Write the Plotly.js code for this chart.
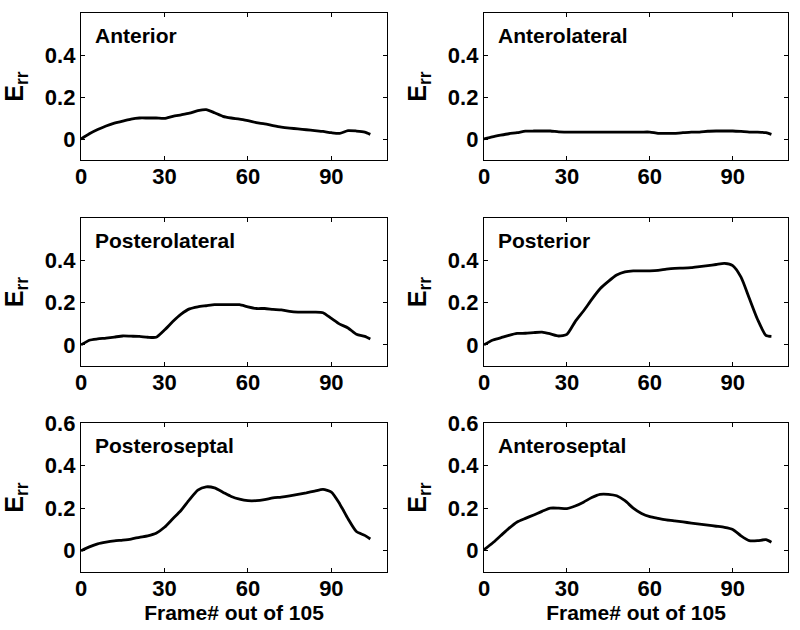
<!DOCTYPE html>
<html>
<head>
<meta charset="utf-8">
<script src="https://cdn.plot.ly/plotly-3.0.1.min.js"></script>
<style>html,body{margin:0;padding:0;background:#fff;}#chart{width:800px;height:630px;}</style>
</head>
<body>
<div id="chart"></div>
<script>
var frames = [0,3,6,9,12,15,18,21,24,27,30,33,36,39,42,45,48,51,54,57,60,63,66,69,72,75,78,81,84,87,90,93,96,99,102,104];

var anterior = [0.0,0.025,0.045,0.062,0.076,0.085,0.095,0.10,0.10,0.10,0.098,0.108,0.115,0.123,0.135,0.14,0.125,0.108,0.10,0.095,0.087,0.078,0.072,0.064,0.057,0.052,0.048,0.044,0.04,0.036,0.03,0.027,0.04,0.038,0.033,0.022];
var anterolateral = [0.0,0.01,0.018,0.025,0.03,0.037,0.038,0.038,0.038,0.034,0.033,0.033,0.033,0.033,0.033,0.033,0.033,0.033,0.033,0.033,0.033,0.027,0.027,0.027,0.03,0.033,0.033,0.037,0.038,0.038,0.038,0.036,0.033,0.033,0.03,0.022];
var posterolateral = [0.0,0.022,0.028,0.032,0.037,0.042,0.041,0.04,0.036,0.036,0.07,0.11,0.145,0.17,0.18,0.185,0.19,0.19,0.19,0.19,0.18,0.172,0.172,0.168,0.165,0.158,0.155,0.155,0.155,0.152,0.125,0.098,0.08,0.05,0.04,0.028];
var posterior = [0.0,0.022,0.033,0.045,0.054,0.055,0.058,0.06,0.052,0.042,0.05,0.11,0.16,0.215,0.265,0.3,0.33,0.345,0.35,0.35,0.35,0.352,0.358,0.362,0.363,0.365,0.37,0.375,0.38,0.385,0.375,0.32,0.22,0.12,0.045,0.04];
var posteroseptal = [0.0,0.018,0.032,0.04,0.046,0.05,0.055,0.063,0.07,0.082,0.11,0.15,0.19,0.24,0.285,0.3,0.295,0.275,0.255,0.242,0.235,0.235,0.24,0.248,0.252,0.258,0.265,0.272,0.28,0.288,0.275,0.22,0.15,0.09,0.072,0.055];
var anteroseptal = [0.005,0.035,0.07,0.105,0.135,0.152,0.168,0.185,0.2,0.2,0.198,0.21,0.228,0.25,0.265,0.265,0.258,0.235,0.2,0.175,0.16,0.152,0.145,0.14,0.135,0.13,0.125,0.12,0.115,0.11,0.1,0.07,0.047,0.047,0.052,0.04];

var panelNames = ["Anterior","Anterolateral","Posterolateral","Posterior","Posteroseptal","Anteroseptal"];
var panelData = [anterior, anterolateral, posterolateral, posterior, posteroseptal, anteroseptal];
var xTicks = [0,30,60,90];
var yTicksShort = [0,0.2,0.4];
var yTicksLong = [0,0.2,0.4,0.6];
var yTickTextShort = ["0","0.2","0.4"];
var yTickTextLong = ["0","0.2","0.4","0.6"];
var xTitle = "Frame# out of 105";
var yTitle = "E<sub>rr</sub>";

var W = 800, H = 630;
var colPx = [[81,387],[484,788]];
var rowPx = [[13,160],[218,366],[423,572]];

var font = "Liberation Sans, Arial, sans-serif";
var traces = [];
var layout = {
  width: W, height: H,
  margin: {l:0, r:0, t:0, b:0},
  paper_bgcolor: "#fff", plot_bgcolor: "#fff",
  showlegend: false,
  font: {family: font, color: "#000", size: 21},
  annotations: []
};

for (var i = 0; i < 6; i++) {
  var r = Math.floor(i / 2), c = i % 2;
  var n = i + 1;
  var xa = n === 1 ? "x" : "x" + n;
  var ya = n === 1 ? "y" : "y" + n;
  var xk = n === 1 ? "xaxis" : "xaxis" + n;
  var yk = n === 1 ? "yaxis" : "yaxis" + n;
  traces.push({
    x: frames, y: panelData[i], type: "scatter", mode: "lines",
    line: {color: "#000", width: 2.8, shape: "spline", smoothing: 0.6},
    xaxis: xa, yaxis: ya, hoverinfo: "skip"
  });
  var bottom = r === 2;
  var xax = {
    domain: [colPx[c][0] / W, colPx[c][1] / W],
    anchor: ya, range: [0, 110], tickvals: xTicks,
    ticks: "inside", ticklen: 4, tickwidth: 1, tickcolor: "#000",
    ticklabelstandoff: -4,
    showline: true, linecolor: "#000", linewidth: 1.2, mirror: "ticks",
    showgrid: false, zeroline: false, automargin: false,
    tickfont: {family: font, size: 22, color: "#000", weight: "bold"}
  };
  if (bottom) {
    xax.title = {text: "<b>" + xTitle + "</b>", font: {family: font, size: 21, color: "#000"}, standoff: 0};
  }
  layout[xk] = xax;
  layout[yk] = {
    domain: [1 - rowPx[r][1] / H, 1 - rowPx[r][0] / H],
    anchor: xa, range: [-0.1, 0.6],
    tickvals: bottom ? yTicksLong : yTicksShort,
    ticktext: bottom ? yTickTextLong : yTickTextShort,
    ticks: "inside", ticklen: 4, tickwidth: 1, tickcolor: "#000",
    showline: true, linecolor: "#000", linewidth: 1.2, mirror: "ticks",
    showgrid: false, zeroline: false, automargin: false,
    tickfont: {family: font, size: 22, color: "#000", weight: "bold"},
    title: {text: "<b>" + yTitle + "</b>", font: {family: font, size: 25, color: "#000"}, standoff: 14}
  };
  layout.annotations.push({
    xref: xa + " domain", yref: ya + " domain",
    x: 0.04, y: 0.85, xanchor: "left", yanchor: "middle",
    text: "<b>" + panelNames[i] + "</b>", showarrow: false,
    font: {family: font, size: 21, color: "#000"}
  });
}

Plotly.newPlot("chart", traces, layout, {staticPlot: true, displayModeBar: false});
</script>
</body>
</html>
